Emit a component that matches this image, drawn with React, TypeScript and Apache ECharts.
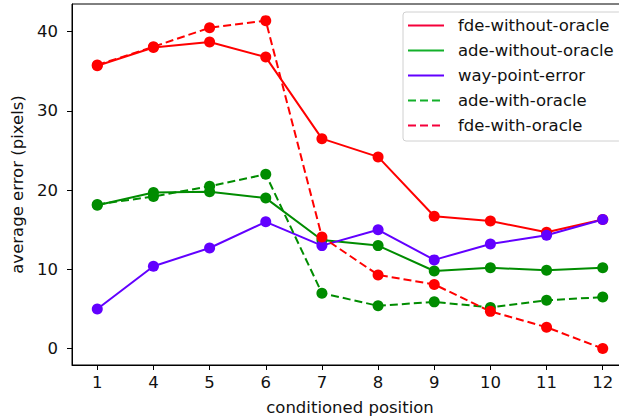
import React, { useEffect, useRef } from "react";
import * as echarts from "echarts";

const categories = ["1", "4", "5", "6", "7", "8", "9", "10", "11", "12"];
const fdeWithoutOracle = [35.7, 38.0, 38.7, 36.8, 26.5, 24.2, 16.7, 16.1, 14.7, 16.3];
const adeWithoutOracle = [18.1, 19.7, 19.8, 19.0, 13.7, 13.0, 9.8, 10.2, 9.9, 10.2];
const wayPointError = [5.0, 10.4, 12.7, 16.0, 13.0, 15.0, 11.2, 13.2, 14.3, 16.3];
const adeWithOracle = [18.2, 19.2, 20.5, 22.0, 7.0, 5.4, 5.9, 5.2, 6.1, 6.5];
const fdeWithOracle = [35.8, 38.1, 40.5, 41.4, 14.1, 9.3, 8.1, 4.7, 2.7, 0.0];
const yTicks = [0, 10, 20, 30, 40];

const RED = "#ff0000";
const GREEN = "#008c00";
const PURPLE = "#6200ff";
const FONT = "DejaVu Sans";
const FS = 16.5;

export default function App() {
  const ref = useRef<HTMLDivElement>(null);
  useEffect(() => {
    if (!ref.current) return;
    const chart = echarts.init(ref.current, undefined, { renderer: "svg" });
    const idx = categories.map((_, i) => i);
    const mk = (name: string, vals: number[], color: string, dashed: boolean) => ({
      name,
      type: "line",
      data: vals.map((v, i) => [i, v]),
      symbol: "circle",
      symbolSize: 11,
      showSymbol: true,
      itemStyle: { color },
      lineStyle: { color, width: 2, type: dashed ? [8, 4] : "solid" },
      emphasis: { disabled: true },
    });
    chart.setOption({
      animation: false,
      textStyle: { fontFamily: FONT },
      grid: {
        left: 72,
        width: 556,
        top: 4,
        bottom: 55,
        outerBoundsMode: "none",
        containLabel: false,
        show: true,
        borderColor: "#000",
        borderWidth: 1,
        backgroundColor: "transparent",
      },
      legend: {
        orient: "vertical",
        left: 403,
        top: 12,
        itemWidth: 36,
        itemHeight: 14,
        itemGap: 8,
        padding: [5, 8, 7, 4],
        backgroundColor: "#fff",
        borderColor: "#d0d0d0",
        borderWidth: 1,
        borderRadius: 3,
        itemStyle: { opacity: 0 },
        textStyle: {
          fontFamily: FONT,
          fontSize: FS,
          lineHeight: 17,
          color: "#111",
          padding: [0, 0, 0, 9],
        },
        data: [
          { name: "fde-without-oracle", lineStyle: { color: "#f5003a" } },
          { name: "ade-without-oracle", lineStyle: { color: "#13b02a" } },
          { name: "way-point-error", lineStyle: { color: PURPLE } },
          { name: "ade-with-oracle", lineStyle: { color: "#13b02a" } },
          { name: "fde-with-oracle", lineStyle: { color: "#f5003a" } },
        ],
      },
      xAxis: {
        type: "value",
        min: -0.45,
        max: 9.45,
        name: "conditioned position",
        nameLocation: "middle",
        nameGap: 34,
        nameTextStyle: { fontFamily: FONT, fontSize: FS, color: "#111" },
        axisLine: { show: true, onZero: false, lineStyle: { color: "#000", width: 1 } },
        axisTick: {
          show: true,
          inside: false,
          length: 5,
          customValues: idx,
          lineStyle: { color: "#000" },
        },
        axisLabel: {
          customValues: idx,
          margin: 9,
          fontFamily: FONT,
          fontSize: FS,
          color: "#111",
          formatter: (v: number) => categories[Math.round(v)] ?? "",
        },
        splitLine: { show: false },
      },
      yAxis: {
        type: "value",
        min: -2.07,
        max: 43.5,
        name: "average error (pixels)",
        nameLocation: "middle",
        nameGap: 37,
        nameTextStyle: { fontFamily: FONT, fontSize: FS, color: "#111" },
        axisLine: { show: true, onZero: false, lineStyle: { color: "#000", width: 1 } },
        axisTick: {
          show: true,
          inside: false,
          length: 5,
          customValues: yTicks,
          lineStyle: { color: "#000" },
        },
        axisLabel: {
          customValues: yTicks,
          margin: 14,
          fontFamily: FONT,
          fontSize: FS,
          color: "#111",
        },
        splitLine: { show: false },
      },
      series: [
        mk("fde-without-oracle", fdeWithoutOracle, RED, false),
        mk("ade-without-oracle", adeWithoutOracle, GREEN, false),
        mk("way-point-error", wayPointError, PURPLE, false),
        mk("ade-with-oracle", adeWithOracle, GREEN, true),
        mk("fde-with-oracle", fdeWithOracle, RED, true),
      ],
    });
    return () => chart.dispose();
  }, []);
  return (
    <div
      ref={ref}
      style={{ position: "fixed", left: 0, top: 0, width: 619, height: 420, background: "#fff" }}
    />
  );
}
